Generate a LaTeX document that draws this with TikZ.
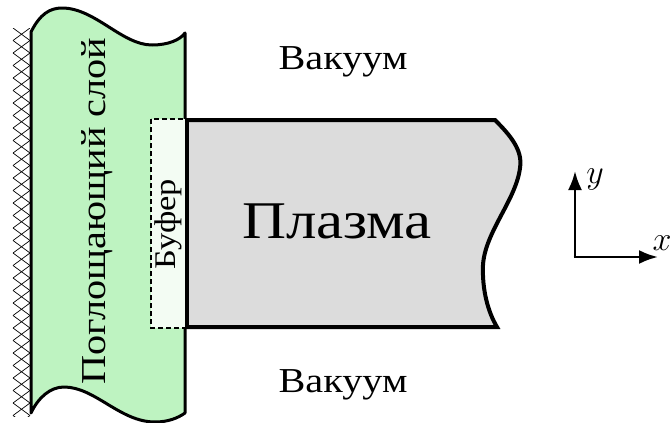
\RequirePackage{fix-cm}
\documentclass[tikz,border=0pt]{standalone}
\usepackage{fontspec}
\setmainfont{Liberation Serif}[FakeStretch=1.15]
\usetikzlibrary{arrows.meta}
\definecolor{absgreen}{RGB}{190,243,193}
\definecolor{bufgreen}{RGB}{243,252,243}
\definecolor{plasmagray}{RGB}{220,220,220}
\tikzset{
  thickborder/.style={line width=3pt, line join=round},
  hatchline/.style={line width=0.7pt},
  lbl/.style={inner sep=0pt, anchor=base},
  axisarrow/.style={line width=2.6pt, -{Latex[length=19pt,width=14pt]}},
}
\begin{document}
\begin{tikzpicture}[x=1pt,y=-1pt]
\useasboundingbox (0,0) rectangle (672,423);
% hatching on the left wall
\begin{scope}
  \clip (12,28) rectangle (32,416);
  \foreach \k in {0,...,33} {
    \draw[hatchline] (13,{28+12.5*\k}) -- (30,{40.5+12.5*\k});
    \draw[hatchline] (13,{40.5+12.5*\k}) -- (30,{28+12.5*\k});
  }
\end{scope}
% absorbing layer
\draw[thickborder, fill=absgreen]
  (31,32) .. controls (40,14) and (50,8) .. (62,8)
  .. controls (95,8) and (122,45) .. (152,45)
  .. controls (168,45) and (180,40) .. (185,33)
  -- (185,413)
  .. controls (178,418) and (168,422) .. (155,422)
  .. controls (120,422) and (95,387) .. (64,387)
  .. controls (50,387) and (38,398) .. (31,413)
  -- cycle;
% plasma
\draw[line width=4pt, line join=miter, fill=plasmagray]
  (186,120) -- (495,120)
  .. controls (510,135) and (523,150) .. (520,168)
  .. controls (516,200) and (485,232) .. (483,265)
  .. controls (482,290) and (488,312) .. (497,327)
  -- (186,327) -- cycle;
% buffer
\draw[line width=2pt, dash pattern=on 5pt off 3pt, fill=bufgreen]
  (151,119) rectangle (186,328);
\draw[line width=4pt] (187,118) -- (187,329);
% labels
\node[lbl, font=\fontsize{35}{40}\selectfont] (vac1) at (343,69) {Вакуум};
\node[lbl, font=\fontsize{35}{40}\selectfont] (vac2) at (343,392) {Вакуум};
\node[lbl, font=\fontsize{53}{60}\selectfont] (plasma) at (337,238) {Плазма};
\node[lbl, font=\fontsize{35}{40}\selectfont, rotate=90] (abs) at (105,211) {Поглощающий слой};
\node[lbl, font=\fontsize{30}{34}\selectfont, rotate=90] (buf) at (175,224) {Буфер};
% axes
\coordinate (o) at (575,257);
\coordinate (ytip) at (575,171);
\coordinate (xtip) at (658,257);
\draw[axisarrow] (o) -- (ytip);
\draw[axisarrow, shorten <=-1.3pt] (o) -- (xtip);
\node[lbl, font=\fontsize{34}{38}\selectfont] (ylab) at (595,183) {$y$};
\node[lbl, font=\fontsize{34}{38}\selectfont] (xlab) at (662,250) {$x$};
\end{tikzpicture}
\end{document}
